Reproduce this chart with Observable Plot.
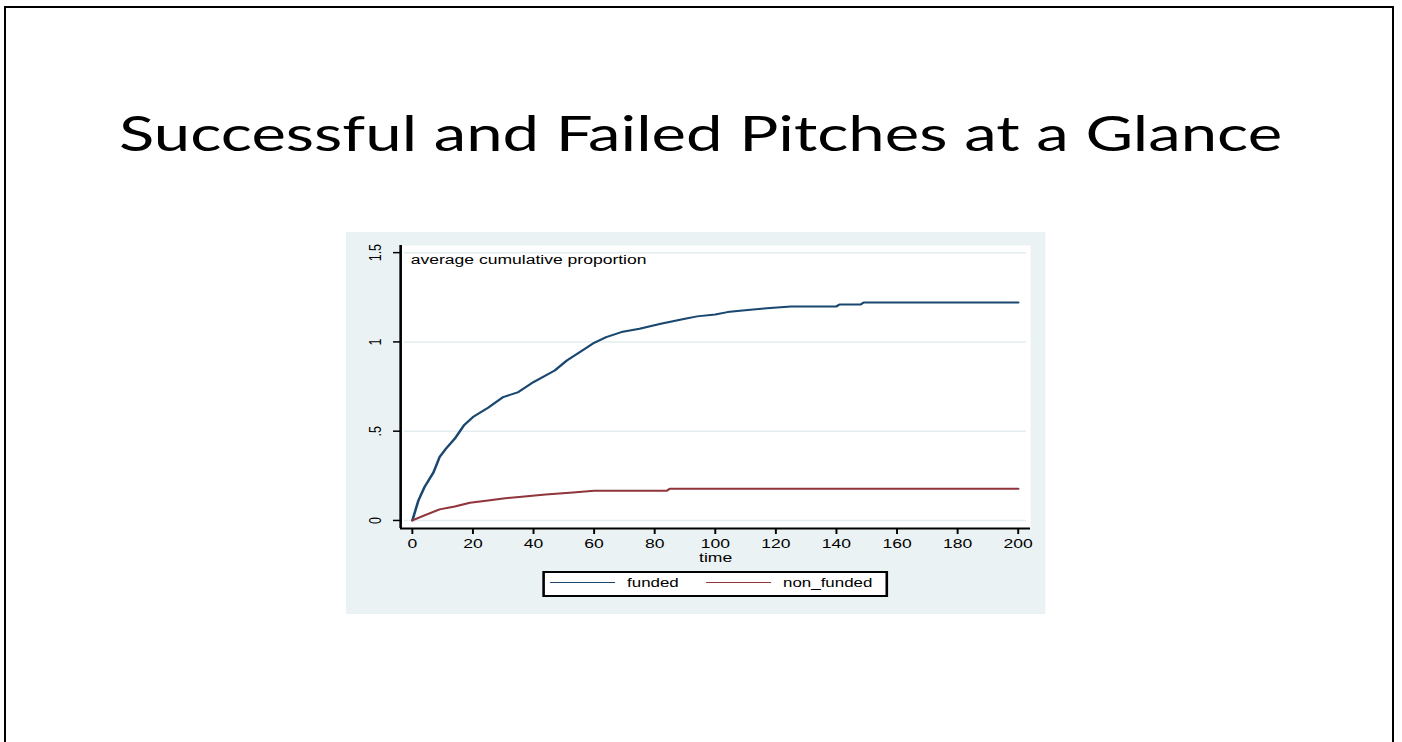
<!DOCTYPE html>
<html><head><meta charset="utf-8">
<script src="https://cdn.jsdelivr.net/npm/d3@7"></script>
<script src="https://cdn.jsdelivr.net/npm/@observablehq/plot@0.6"></script>
<style>
html,body{margin:0;padding:0;background:#fff;}
body{width:1402px;height:742px;position:relative;overflow:hidden;}
#slide{position:absolute;left:4px;top:6px;width:1386px;height:800px;border:2px solid #000;}
#title{position:absolute;left:0;top:108px;width:1402px;text-align:center;font-family:Lato,"Open Sans",sans-serif;font-size:49px;line-height:49px;color:#000;white-space:nowrap;}
#title span{display:inline-block;transform-origin:50% 50%;}
#panel{position:absolute;left:346px;top:232px;transform-origin:0 0;}
#legend{position:absolute;background:#fff;border:2px solid #000;box-sizing:border-box;font-family:"Liberation Sans",Arial,sans-serif;font-size:13px;color:#000;}
#legend .sw{position:absolute;height:0;}
#legend .lb{position:absolute;line-height:13px;white-space:nowrap;}
</style></head><body>
<div id="slide"></div>
<div id="title"><span id="titleText"></span></div>
<div id="panel"></div>
<script>
// ---- text ----
const titleText = "Successful and Failed Pitches at a Glance";
const subtitleText = "average cumulative proportion";
const xLabel = "time";

// ---- series ----
const seriesNames = ["funded", "non_funded"];
const seriesColors = ["#1a476f", "#90353b"];

const fundedTime  = [0, 2, 4, 7, 9, 11, 14, 17, 20, 25, 30, 35, 40, 47, 51, 57, 60, 64, 69, 75, 82, 90, 94, 100, 104, 109, 117, 125, 140, 141, 148, 149, 200];
const fundedValue = [0, 0.112, 0.187, 0.27, 0.355, 0.40, 0.458, 0.532, 0.579, 0.631, 0.691, 0.719, 0.775, 0.84, 0.896, 0.962, 0.995, 1.027, 1.055, 1.074, 1.102, 1.13, 1.143, 1.154, 1.167, 1.176, 1.188, 1.199, 1.199, 1.21, 1.21, 1.221, 1.221];

const nonFundedTime  = [0, 4, 9, 14, 19, 25, 30, 37, 44, 53, 60, 84, 85, 200];
const nonFundedValue = [0, 0.028, 0.062, 0.078, 0.099, 0.112, 0.123, 0.134, 0.146, 0.157, 0.166, 0.166, 0.177, 0.177];

// ---- axes ----
const xTicks = [0, 20, 40, 60, 80, 100, 120, 140, 160, 180, 200];
const yTicks = [0, 0.5, 1, 1.5];
const yTickLabels = ["0", ".5", "1", "1.5"];
const xDomain = [-3.86, 204.1];
const yDomain = [-0.045, 1.54];

// ---- build table ----
const rows = [
  ...fundedTime.map((t, i) => ({series: seriesNames[0], t, v: fundedValue[i]})),
  ...nonFundedTime.map((t, i) => ({series: seriesNames[1], t, v: nonFundedValue[i]}))
];

// ---- title ----
const tspan = document.getElementById("titleText");
tspan.textContent = titleText;
function fitTitle() {
  tspan.style.transform = "none";
  const w = tspan.getBoundingClientRect().width;
  tspan.style.transform = `scaleX(${1163 / w})`;
}
fitTitle();
if (document.fonts && document.fonts.ready) document.fonts.ready.then(fitTitle);

// ---- plot ----
const s = 1.3;            // horizontal stretch of the pasted graph
const panelW = 700, panelH = 382;
const W = panelW / s;
const font = "'Liberation Sans', Arial, sans-serif";

const chart = Plot.plot({
  width: W,
  height: panelH,
  marginLeft: 54 / s,
  marginRight: 16 / s,
  marginTop: 13,
  marginBottom: 86,
  style: {background: "#eaf2f3", fontFamily: font, color: "#000", overflow: "visible"},
  x: {domain: xDomain},
  y: {domain: yDomain},
  color: {domain: seriesNames, range: seriesColors},
  marks: [
    Plot.frame({fill: "#fff", stroke: null}),
    Plot.gridY(yTicks, {stroke: "#e3ecee", strokeOpacity: 1, strokeWidth: 1.5, insetLeft: 3, insetRight: 3}),
    Plot.axisX({ticks: xTicks, tickSize: 6, tickPadding: 4, fontSize: 13.5, label: null, strokeWidth: 1.5}),
    Plot.axisY({ticks: yTicks, tickFormat: (d) => yTickLabels[yTicks.indexOf(d)], tickRotate: -90, tickSize: 5.4, tickPadding: 10, fontSize: 12.5, label: null, strokeWidth: 1.5}),
    Plot.ruleX([xDomain[0]], {stroke: "#000", strokeWidth: 2}),
    Plot.ruleY([yDomain[0]], {stroke: "#000", strokeWidth: 2}),
    Plot.line(rows, {x: "t", y: "v", z: "series", stroke: "series", strokeWidth: 2}),
    Plot.text([subtitleText], {text: d => d, frameAnchor: "top-left", dx: 7.7, dy: 14, textAnchor: "start", lineAnchor: "middle", fontSize: 13.5, fill: "#000"}),
    Plot.text([xLabel], {text: d => d, frameAnchor: "bottom", dy: 29, lineAnchor: "middle", fontSize: 13.5, fill: "#000"})
  ]
});

const panel = document.getElementById("panel");
panel.style.width = W + "px";
panel.style.height = panelH + "px";
panel.style.transform = `scaleX(${s})`;
panel.appendChild(chart);

// ---- legend ----
const legend = document.createElement("div");
legend.id = "legend";
Object.assign(legend.style, {left: "150.8px", top: "338.5px", width: "266.2px", height: "26px"});
const swLeft = [4.2, 124.2], lbLeft = [63.4, 183.4];
seriesNames.forEach((name, i) => {
  const sw = document.createElement("div");
  sw.className = "sw";
  Object.assign(sw.style, {left: swLeft[i] + "px", top: "9.5px", width: "50px", borderTop: `1.5px solid ${seriesColors[i]}`});
  legend.appendChild(sw);
  const lb = document.createElement("div");
  lb.className = "lb";
  lb.textContent = name;
  Object.assign(lb.style, {left: lbLeft[i] + "px", top: "3.5px"});
  legend.appendChild(lb);
});
panel.appendChild(legend);
</script>
</body></html>
